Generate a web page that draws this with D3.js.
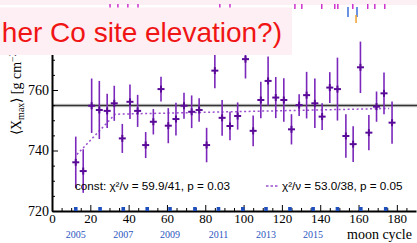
<!DOCTYPE html>
<html>
<head>
<meta charset="utf-8">
<script src="https://cdn.jsdelivr.net/npm/d3@7"></script>
<style>
body { margin: 0; background: #fff; }
svg { display: block; }
.axis text { font-family: "Liberation Serif", serif; font-size: 14px; fill: #000; }
.xaxis text { font-size: 13px; }
.axis path, .axis line { stroke: #000; }
</style>
</head>
<body>
<svg width="417" height="243"></svg>
<script>
// moon cycle of each point, mean Xmax and its error
var cycles = [12.4, 16.3, 20.7, 24.7, 28.8, 32.5, 36.7, 40.7, 44.7, 48.9, 52.9, 56.9, 60.7, 64.7,
  68.9, 72.9, 76.8, 80.7, 85, 88.8, 92.9, 96.9, 101, 105, 109, 112.8, 116.8, 121, 125, 129,
  132.9, 137.2, 141, 145, 149, 153.4, 157.2, 161, 165.4, 169.4, 173.3, 177.5];
var xmax = [736.1, 733.2, 754.8, 753.4, 753.1, 755.6, 744.0, 756.1, 753.1, 741.8, 749.5, 760.3, 748.2, 750.4,
  754.8, 752.8, 753.4, 741.8, 766.4, 750.8, 748.1, 751.4, 770.2, 746.5, 756.7, 763.0, 757.5, 756.7, 747.0, 755.0,
  758.3, 755.6, 751.2, 760.8, 760.3, 744.8, 742.1, 767.5, 745.9, 754.5, 758.9, 749.2];
var errs = [8.5, 7.2, 9.0, 9.6, 5.7, 5.8, 4.8, 5.7, 5.3, 4.3, 4.2, 4.1, 5.8, 5.4,
  4.3, 5.4, 3.9, 5.7, 5.8, 5.9, 4.7, 4.5, 6.4, 5.1, 6.0, 8.1, 6.8, 7.2, 5.0, 3.6,
  7.7, 8.2, 4.4, 5.1, 10.4, 7.2, 5.9, 8.5, 5.8, 5.0, 6.9, 7.0];

// fits
var constValue = 754.9;
var brokenCycles = [13, 33, 176];
var brokenValues = [738.7, 752.0, 753.9];

// years (start of each year in moon cycles)
var years = [2005, 2006, 2007, 2008, 2009, 2010, 2011, 2012, 2013, 2014, 2015, 2016, 2017, 2018];
var yearCycles = [12.4, 25.1, 37.2, 49.7, 61.6, 74.6, 86.9, 99.6, 111.7, 124.2, 136.3, 149.0, 161.2, 174.2];
var labelledYears = [2005, 2007, 2009, 2011, 2013, 2015];

// tick labels
var xTicks = [0, 20, 40, 60, 80, 100, 120, 140, 160, 180];
var yTicks = [720, 740, 760];

// leftovers of the panel above
var topMagenta = [30.3, 34.4, 39.6, 44.9, 87.6, 92.9, 126.8, 130.4, 140.8, 147.6, 149.2, 157, 164.8, 168.5, 173.7];
var topBlue = [154.5, 159.2];
var topOrange = [158.7];

var legendConst = "const: \u03c7\u00b2/\u03bd = 59.9/41, p = 0.03";
var legendBroken = "\u03c7\u00b2/\u03bd = 53.0/38, p = 0.05";
var title = "her Co site elevation?)";

var svg = d3.select("svg");

var x = d3.scaleLinear().domain([0, 190]).range([52, 416]);
var y = d3.scaleLinear().domain([720, 780]).range([211, 29.5]);

var purple = "#7b27bb";
var dark = "#5a0a98";

// pink strip at the very top
svg.append("rect").attr("x", 0).attr("y", 0).attr("width", 417).attr("height", 5).attr("fill", "#fdf0f5");

svg.selectAll("line.topm").data(topMagenta).enter().append("line")
  .attr("x1", function (d) { return x(d); }).attr("x2", function (d) { return x(d); })
  .attr("y1", 4).attr("y2", 9).attr("stroke", "#cc33cc").attr("stroke-width", 1.5);
svg.selectAll("line.topb").data(topBlue).enter().append("line")
  .attr("x1", function (d) { return x(d); }).attr("x2", function (d) { return x(d); })
  .attr("y1", 7).attr("y2", 17).attr("stroke", "#3a6fd8").attr("stroke-width", 1.5);
svg.selectAll("line.topo").data(topOrange).enter().append("line")
  .attr("x1", function (d) { return x(d); }).attr("x2", function (d) { return x(d); })
  .attr("y1", 15).attr("y2", 23).attr("stroke", "#f0a030").attr("stroke-width", 1.5);

// constant fit
svg.append("line").attr("x1", x(0)).attr("x2", 417)
  .attr("y1", y(constValue)).attr("y2", y(constValue))
  .attr("stroke", "#d4d4d4").attr("stroke-width", 3.5);
svg.append("line").attr("x1", x(0)).attr("x2", 417)
  .attr("y1", y(constValue)).attr("y2", y(constValue))
  .attr("stroke", "#333").attr("stroke-width", 1.4);

// broken line fit
var line = d3.line()
  .x(function (d, i) { return x(brokenCycles[i]); })
  .y(function (d) { return y(d); });
svg.append("path").datum(brokenValues).attr("d", line)
  .attr("fill", "none").attr("stroke", "#9a4fcf").attr("stroke-width", 1.5)
  .attr("stroke-dasharray", "2,2.5");

// error bars
var pts = svg.append("g");
pts.selectAll("line.err").data(xmax).enter().append("line")
  .attr("x1", function (d, i) { return x(cycles[i]); })
  .attr("x2", function (d, i) { return x(cycles[i]); })
  .attr("y1", function (d, i) { return y(d + errs[i]); })
  .attr("y2", function (d, i) { return y(d - errs[i]); })
  .attr("stroke", purple).attr("stroke-width", 1.6);
// crosses
pts.selectAll("line.h").data(xmax).enter().append("line")
  .attr("x1", function (d, i) { return x(cycles[i]) - 3.5; })
  .attr("x2", function (d, i) { return x(cycles[i]) + 3.5; })
  .attr("y1", function (d) { return y(d); })
  .attr("y2", function (d) { return y(d); })
  .attr("stroke", dark).attr("stroke-width", 2);
pts.selectAll("line.v").data(xmax).enter().append("line")
  .attr("x1", function (d, i) { return x(cycles[i]); })
  .attr("x2", function (d, i) { return x(cycles[i]); })
  .attr("y1", function (d) { return y(d) - 3.5; })
  .attr("y2", function (d) { return y(d) + 3.5; })
  .attr("stroke", dark).attr("stroke-width", 2);

// axes (ticks point inwards)
var gx = svg.append("g").attr("class", "axis xaxis").attr("transform", "translate(0," + y(720) + ")")
  .call(d3.axisBottom(x).tickValues(xTicks).tickSize(-6).tickSizeOuter(0).tickPadding(3));
svg.append("g").attr("class", "axis").attr("transform", "translate(0," + y(720) + ")")
  .call(d3.axisBottom(x).tickValues(d3.range(5, 190, 5).filter(function (d) { return d % 20; }))
    .tickSize(-3).tickSizeOuter(0).tickFormat(""))
  .select(".domain").remove();
gx.select(".domain").attr("stroke-width", 2);

var gy = svg.append("g").attr("class", "axis").attr("transform", "translate(" + x(0) + ",0)")
  .call(d3.axisLeft(y).tickValues(yTicks).tickSize(-6).tickSizeOuter(0).tickPadding(3));
svg.append("g").attr("class", "axis").attr("transform", "translate(" + x(0) + ",0)")
  .call(d3.axisLeft(y).tickValues(d3.range(725, 780, 5).filter(function (d) { return d % 20; }))
    .tickSize(-3).tickSizeOuter(0).tickFormat(""))
  .select(".domain").remove();
gy.select(".domain").attr("stroke-width", 2);

// year markers
svg.selectAll("rect.year").data(yearCycles).enter().append("rect")
  .attr("x", function (d) { return x(d) - 1.8; })
  .attr("y", y(720) - 4).attr("width", 3.6).attr("height", 4)
  .attr("fill", "#1f4fbf");
svg.selectAll("text.year").data(labelledYears).enter().append("text")
  .attr("x", function (d) { return x(yearCycles[years.indexOf(d)]); })
  .attr("y", 238).attr("text-anchor", "middle")
  .style("font-family", "Liberation Serif, serif").style("font-size", "10px")
  .style("fill", "#2a55c0").text(function (d) { return d; });

svg.append("text").attr("x", 347).attr("y", 239)
  .style("font-family", "Liberation Serif, serif").style("font-size", "14px")
  .text("moon cycle");

// legend
svg.append("text").attr("x", 75).attr("y", 190)
  .style("font-family", "Liberation Sans, Arial, sans-serif").style("font-size", "11.7px")
  .text(legendConst);
svg.append("line").attr("x1", 266).attr("x2", 279).attr("y1", 186).attr("y2", 186)
  .attr("stroke", "#9a4fcf").attr("stroke-width", 1.3).attr("stroke-dasharray", "2.5,2");
svg.append("text").attr("x", 282).attr("y", 190)
  .style("font-family", "Liberation Sans, Arial, sans-serif").style("font-size", "11.7px")
  .text(legendBroken);

// y axis title
var yt = svg.append("text").attr("transform", "translate(21,135) rotate(-90)")
  .style("font-family", "Liberation Serif, serif").style("font-size", "14px");
yt.append("tspan").text("\u27e8X");
yt.append("tspan").attr("dy", 3).style("font-size", "10px").text("max");
yt.append("tspan").attr("dy", -3).text("\u27e9 [g cm");
yt.append("tspan").attr("dy", -5).style("font-size", "10px").text("\u22122");
yt.append("tspan").attr("dy", 5).text("]");

// pink title box over the top
svg.append("rect").attr("x", 0).attr("y", 7.5).attr("width", 292).attr("height", 47.5)
  .attr("fill", "#fdeff3");
svg.append("text").attr("x", 282).attr("y", 42).attr("text-anchor", "end")
  .style("font-family", "Liberation Sans, Arial, sans-serif").style("font-size", "28px")
  .style("fill", "#f01414").text(title);
</script>
</body>
</html>
